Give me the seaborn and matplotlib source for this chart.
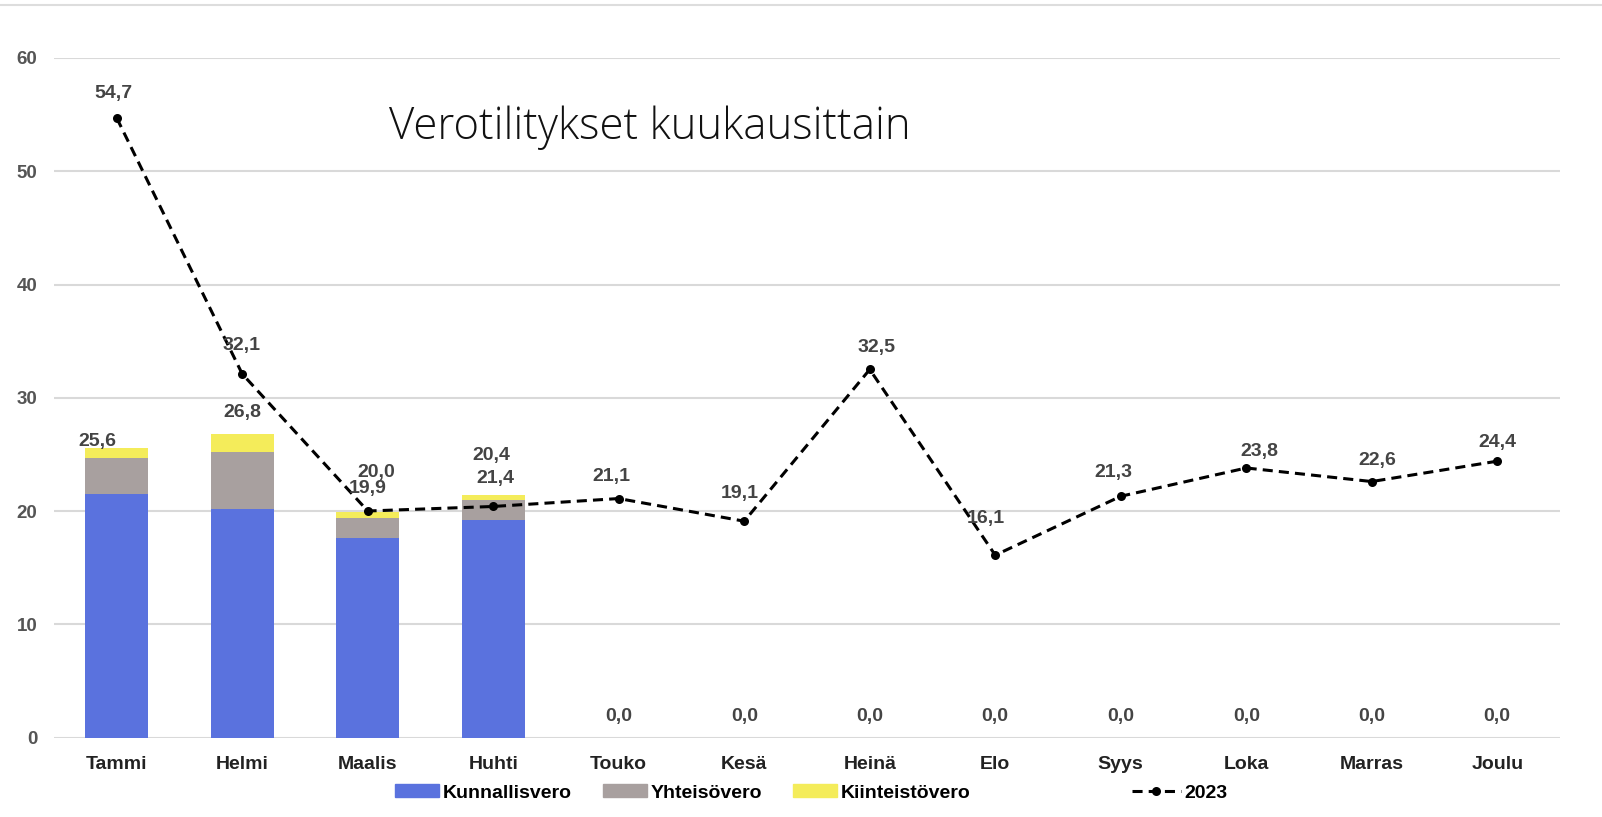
import numpy as np
import pandas as pd
import matplotlib
matplotlib.use("Agg")
import matplotlib.pyplot as plt
from matplotlib.patches import Patch
from matplotlib.lines import Line2D
import seaborn as sns

# data
months = ["Tammi", "Helmi", "Maalis", "Huhti", "Touko", "Kesä",
          "Heinä", "Elo", "Syys", "Loka", "Marras", "Joulu"]
kunnallisvero = [21.5, 20.2, 17.6, 19.2, 0, 0, 0, 0, 0, 0, 0, 0]
yhteisovero = [3.2, 5.0, 1.8, 1.8, 0, 0, 0, 0, 0, 0, 0, 0]
kiinteistovero = [0.9, 1.6, 0.5, 0.4, 0, 0, 0, 0, 0, 0, 0, 0]
v2023 = [54.7, 32.1, 20.0, 20.4, 21.1, 19.1, 32.5, 16.1, 21.3, 23.8, 22.6, 24.4]
yticks = [0, 10, 20, 30, 40, 50, 60]

# label nudges (pixels) so the numbers don't run into each other
line_dx = [-3, -1, 9, -2, -7, -4, 7, -9, -7, 13, 6, 0]
line_dy = [25, 28, 38, 51, 22, 28, 22, 37, 24, 16, 21, 19]
bar_dx = [-19, 0, 0, 2, 0, 0, 0, 0, 0, 0, 0, 0]
bar_dy = [6, 21, 24, 17, 21, 21, 21, 21, 21, 21, 21, 21]

c_blue = "#5a72de"
c_grey = "#a8a09f"
c_yellow = "#f4ec5a"
c_text = "#444444"

df = pd.DataFrame({"kk": months, "kunn": kunnallisvero,
                   "yht": yhteisovero, "kiint": kiinteistovero, "v2023": v2023})
df["s2"] = df["kunn"] + df["yht"]
df["total"] = df["s2"] + df["kiint"]

fig = plt.figure(figsize=(16.02, 8.17), dpi=100)
ax = fig.add_axes([54 / 1602, 1 - 737.5 / 817, (1560 - 54) / 1602, (737.5 - 58) / 817])

# stacked bars: draw totals first, then cover with lower parts
sns.barplot(data=df, x="kk", y="total", order=months, color=c_yellow, saturation=1,
            width=0.5, errorbar=None, ax=ax, zorder=2)
sns.barplot(data=df, x="kk", y="s2", order=months, color=c_grey, saturation=1,
            width=0.5, errorbar=None, ax=ax, zorder=2)
sns.barplot(data=df, x="kk", y="kunn", order=months, color=c_blue, saturation=1,
            width=0.5, errorbar=None, ax=ax, zorder=2)

sns.pointplot(data=df, x="kk", y="v2023", order=months, color="black", errorbar=None,
              marker="o", linestyle=(0, (3.3, 2.0)), linewidth=2.2,
              markersize=6.5, markeredgewidth=0, ax=ax)
for ln in ax.lines:
    ln.set_zorder(4)

lbl = dict(ha="center", va="center", fontsize=14, fontweight="bold", color=c_text,
           family="Liberation Sans", textcoords="offset pixels", zorder=5)
for i in range(len(months)):
    t = df["total"][i]
    ax.annotate(f"{t:.1f}".replace(".", ","), (i, t), xytext=(bar_dx[i], bar_dy[i]), **lbl)
    v = v2023[i]
    ax.annotate(f"{v:.1f}".replace(".", ","), (i, v), xytext=(line_dx[i], line_dy[i]), **lbl)

ax.set_xlim(-0.5, len(months) - 0.5)
ax.set_ylim(0, 60)
ax.set_yticks(yticks)
ax.yaxis.grid(True, color="#d9d9d9", linewidth=1.5, zorder=0)
ax.set_axisbelow(True)
ax.tick_params(length=0)
ax.tick_params(axis="x", pad=13)
ax.tick_params(axis="y", pad=12)
for t in ax.get_xticklabels():
    t.set_fontsize(14)
    t.set_fontweight("bold")
    t.set_color("#222222")
    t.set_family("Liberation Sans")
for t in ax.get_yticklabels():
    t.set_fontsize(13.5)
    t.set_fontweight("bold")
    t.set_color("#555555")
    t.set_family("Liberation Sans")
ax.set_xlabel("")
ax.set_ylabel("")
for s in ax.spines.values():
    s.set_visible(False)

fig.text(650 / 1602, 1 - 139 / 817, "Verotilitykset kuukausittain", ha="center",
         va="baseline", fontsize=31.5, family=["Open Sans", "DejaVu Sans"],
         fontweight="light", color="#111111")

# thin frame line across the top
fig.add_artist(Line2D([0, 1], [1 - 5 / 817, 1 - 5 / 817], color="#dddddd", linewidth=1.5))

legfont = {"family": "Liberation Sans", "weight": "bold", "size": 14}
bar_handles = [Patch(color=c_blue), Patch(color=c_grey), Patch(color=c_yellow)]
fig.legend(bar_handles, ["Kunnallisvero", "Yhteisövero", "Kiinteistövero"],
           loc="center", bbox_to_anchor=(683 / 1602, 1 - 793 / 817), ncol=3,
           frameon=False, prop=legfont, handlelength=2.26, handleheight=0.62,
           handletextpad=0.2, columnspacing=1.6, borderpad=0)
line_handle = Line2D([], [], color="black", marker="o", linestyle=(0, (3.3, 2.0)),
                     linewidth=2.2, markersize=6.5, markeredgewidth=0)
fig.legend([line_handle], ["2023"], loc="center",
           bbox_to_anchor=(1180 / 1602, 1 - 793 / 817), frameon=False, prop=legfont,
           handlelength=2.5, handletextpad=0.2, borderpad=0)

fig.savefig("out.png", dpi=100)
